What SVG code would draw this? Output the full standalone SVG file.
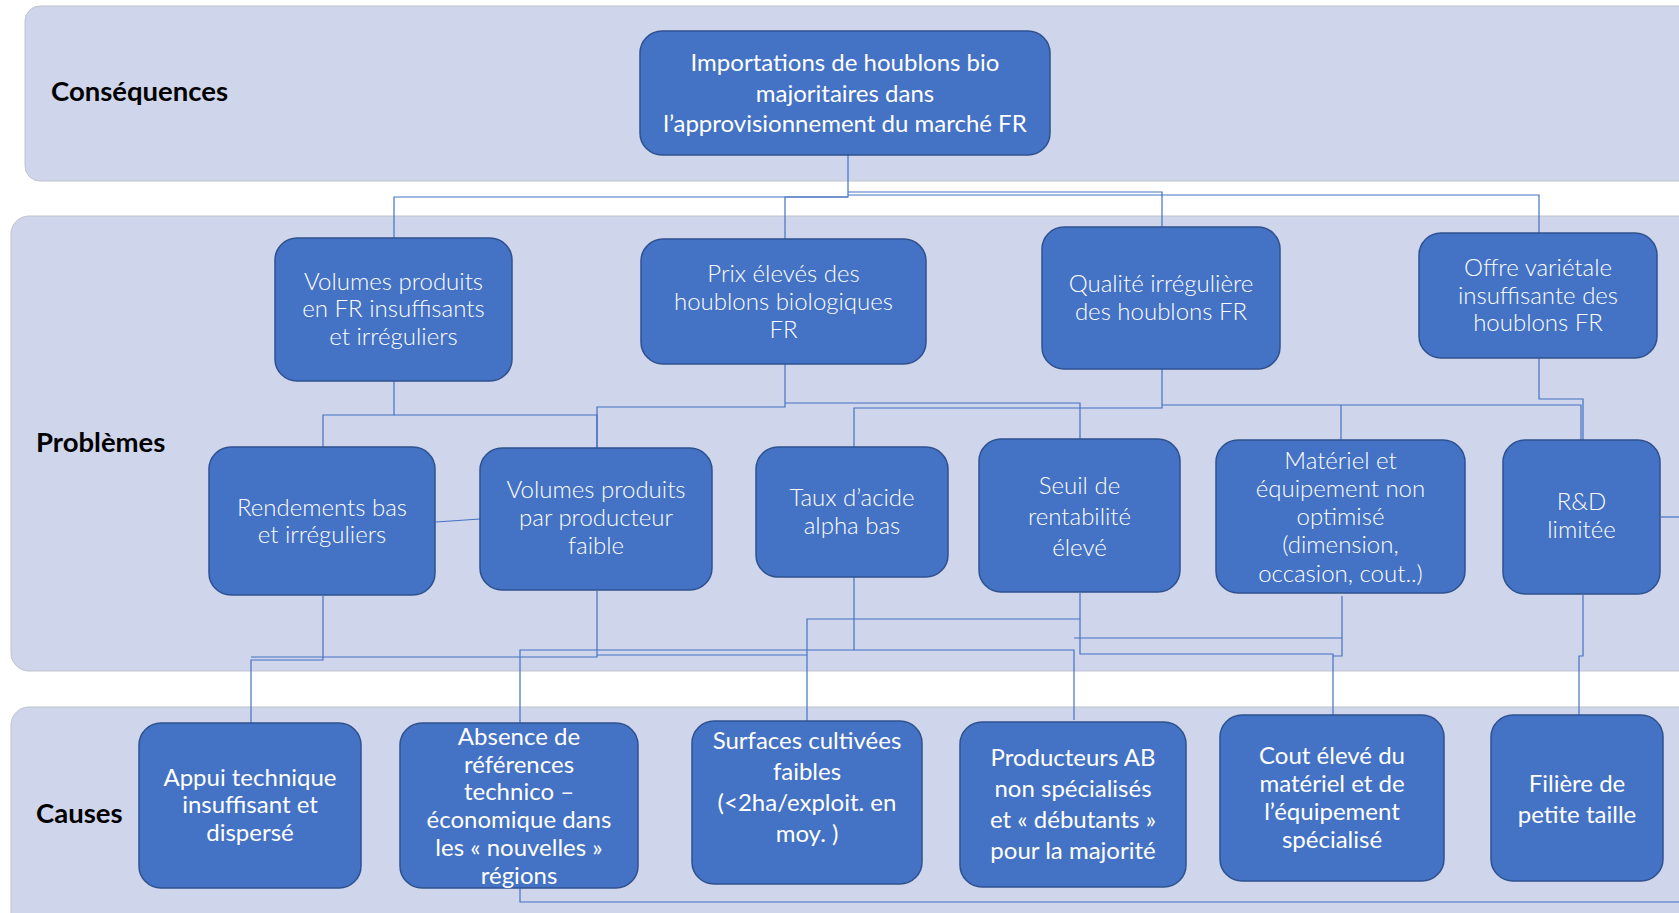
<svg xmlns="http://www.w3.org/2000/svg" width="1679" height="913" viewBox="0 0 1679 913">
<style>
.band{fill:#CFD5EA;stroke:#BFC3CF;stroke-width:1}
.lbl{font-family:Lato,"Liberation Sans",sans-serif;font-weight:bold;font-size:27.5px;fill:#000}
.node rect{fill:#4472C4;stroke:#2F528F;stroke-width:1.5}
.node text{font-family:Lato,"Liberation Sans",sans-serif;font-size:24px;fill:#fff;text-anchor:middle}
.lt text{font-weight:300}
.conn path{fill:none;stroke:#4472C4;stroke-width:1.2}
</style>
<rect width="1679" height="913" fill="#fff"/>
<g id="bands">
<rect class="band" x="25" y="6" width="1700" height="175" rx="15"/>
<rect class="band" x="11" y="216" width="1700" height="455" rx="18"/>
<rect class="band" x="11" y="707" width="1700" height="230" rx="18"/>
<text class="lbl" x="51" y="101">Conséquences</text>
<text class="lbl" x="36" y="452">Problèmes</text>
<text class="lbl" x="36" y="823">Causes</text>
</g>
<g class="conn" id="connectors">
<path d="M848 155V197H394V238"/>
<path d="M848 197H785V239"/>
<path d="M848 192H1162V227"/>
<path d="M848 195H1539V233"/>
<path d="M394 381V415H323V447"/>
<path d="M394 415H597V448"/>
<path d="M785 364V407H597V448"/>
<path d="M785 403H1080V439"/>
<path d="M1162 369V408H854V447"/>
<path d="M1162 405H1581V440"/>
<path d="M1341 405V440"/>
<path d="M1539 358V399H1583V440"/>
<path d="M436 522L480 519"/>
<path d="M323 596V660H251V723"/>
<path d="M597 591V657H251"/>
<path d="M597 655H807"/>
<path d="M854 577V650H520V723"/>
<path d="M854 650H1074V720"/>
<path d="M1080 593V619H807V721"/>
<path d="M1080 619V654H1333V715"/>
<path d="M1342 596V656H1333"/>
<path d="M1342 638H1074"/>
<path d="M1583 595V656H1579V715"/>
<path d="M520 888V902H1679"/>
<path d="M1661 517H1679"/>
</g>
<g class="node" id="n-import"><rect x="640" y="31" width="410" height="124" rx="22"/>
<text x="845" y="71">Importations de houblons bio</text><text x="845" y="102">majoritaires dans</text><text x="845" y="132">l’approvisionnement  du marché FR</text></g>
<g class="node lt" id="n-volfr"><rect x="275" y="238" width="237" height="143" rx="22"/>
<text x="393.5" y="290">Volumes produits</text><text x="393.5" y="317">en FR insuffisants</text><text x="393.5" y="345">et irréguliers</text></g>
<g class="node lt" id="n-prix"><rect x="641" y="239" width="285" height="125" rx="22"/>
<text x="783.5" y="282">Prix élevés des</text><text x="783.5" y="310">houblons biologiques</text><text x="783.5" y="338">FR</text></g>
<g class="node lt" id="n-qualite"><rect x="1042" y="227" width="238" height="142" rx="22"/>
<text x="1161" y="292">Qualité irrégulière</text><text x="1161" y="320">des houblons FR</text></g>
<g class="node lt" id="n-offre"><rect x="1419" y="233" width="238" height="125" rx="22"/>
<text x="1538" y="276">Offre variétale</text><text x="1538" y="304">insuffisante des</text><text x="1538" y="331">houblons FR</text></g>
<g class="node lt" id="n-rend"><rect x="209" y="447" width="226" height="148" rx="22"/>
<text x="322" y="516">Rendements bas</text><text x="322" y="543">et irréguliers</text></g>
<g class="node lt" id="n-volpp"><rect x="480" y="448" width="232" height="142" rx="22"/>
<text x="596" y="498">Volumes produits</text><text x="596" y="526">par producteur</text><text x="596" y="554">faible</text></g>
<g class="node lt" id="n-taux"><rect x="756" y="447" width="192" height="130" rx="22"/>
<text x="852" y="506">Taux d’acide</text><text x="852" y="534">alpha bas</text></g>
<g class="node lt" id="n-seuil"><rect x="979" y="439" width="201" height="153" rx="22"/>
<text x="1079.5" y="494">Seuil de</text><text x="1079.5" y="525">rentabilité</text><text x="1079.5" y="556">élevé</text></g>
<g class="node lt" id="n-mat"><rect x="1216" y="440" width="249" height="153" rx="22"/>
<text x="1340.5" y="469">Matériel et</text><text x="1340.5" y="497">équipement  non</text><text x="1340.5" y="525">optimisé</text><text x="1340.5" y="553">(dimension,</text><text x="1340.5" y="582">occasion, cout..)</text></g>
<g class="node lt" id="n-rd"><rect x="1503" y="440" width="157" height="154" rx="22"/>
<text x="1581.5" y="510">R&amp;D</text><text x="1581.5" y="538">limitée</text></g>
<g class="node" id="n-appui"><rect x="139" y="723" width="222" height="165" rx="22"/>
<text x="250" y="786">Appui technique</text><text x="250" y="813">insuffisant et</text><text x="250" y="841">dispersé</text></g>
<g class="node" id="n-absence"><rect x="400" y="723" width="238" height="165" rx="22"/>
<text x="519" y="745">Absence de</text><text x="519" y="773">références</text><text x="519" y="800">technico –</text><text x="519" y="828">économique dans</text><text x="519" y="856">les « nouvelles »</text><text x="519" y="884">régions</text></g>
<g class="node" id="n-surf"><rect x="692" y="721" width="230" height="163" rx="22"/>
<text x="807" y="749">Surfaces cultivées</text><text x="807" y="780">faibles</text><text x="807" y="811">(&lt;2ha/exploit. en</text><text x="807" y="842">moy. )</text></g>
<g class="node" id="n-prod"><rect x="960" y="722" width="226" height="165" rx="22"/>
<text x="1073" y="766">Producteurs AB</text><text x="1073" y="797">non spécialisés</text><text x="1073" y="828">et « débutants »</text><text x="1073" y="859">pour la majorité</text></g>
<g class="node" id="n-cout"><rect x="1220" y="715" width="224" height="166" rx="22"/>
<text x="1332" y="764">Cout élevé du</text><text x="1332" y="792">matériel et de</text><text x="1332" y="820">l’équipement</text><text x="1332" y="848">spécialisé</text></g>
<g class="node" id="n-filiere"><rect x="1491" y="715" width="172" height="166" rx="22"/>
<text x="1577" y="792">Filière de</text><text x="1577" y="823">petite taille</text></g>
</svg>
